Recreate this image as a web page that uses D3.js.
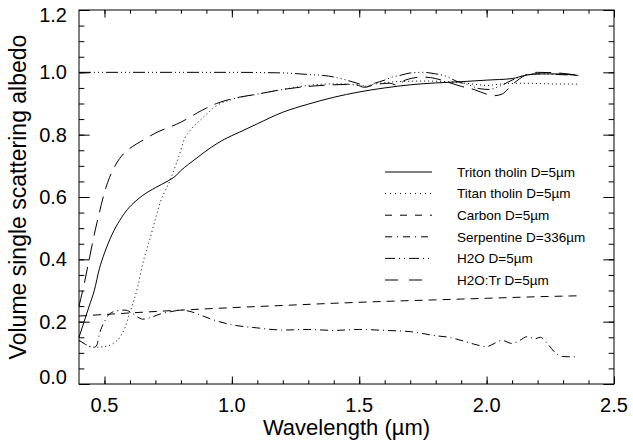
<!DOCTYPE html>
<html>
<head>
<meta charset="utf-8">
<script src="https://cdn.jsdelivr.net/npm/d3@7"></script>
<style>
  html, body { margin: 0; padding: 0; background: #fff; }
  svg { display: block; }
  text { font-family: "Liberation Sans", Arial, Helvetica, sans-serif; fill: #000; }
</style>
</head>
<body>
<svg id="chart" width="633" height="441"></svg>
<script>
// Single scattering albedo spectra, [wavelength (µm), albedo]
const tritonTholin = [[0.40,0.15],[0.42,0.20],[0.44,0.25],[0.46,0.30],[0.48,0.37],[0.50,0.42],[0.53,0.48],[0.56,0.525],[0.59,0.56],[0.62,0.585],[0.65,0.605],[0.70,0.63],[0.75,0.652],[0.78,0.668],[0.80,0.685],[0.83,0.705],[0.87,0.73],[0.92,0.76],[0.97,0.785],[1.03,0.808],[1.10,0.835],[1.20,0.872],[1.30,0.898],[1.40,0.92],[1.50,0.937],[1.60,0.95],[1.70,0.96],[1.80,0.966],[1.90,0.97],[2.00,0.975],[2.10,0.98],[2.15,0.99],[2.20,0.995],[2.28,0.995],[2.36,0.99]];
const titanTholin = [[0.40,0.14],[0.43,0.125],[0.46,0.118],[0.50,0.12],[0.53,0.128],[0.56,0.15],[0.58,0.18],[0.60,0.23],[0.63,0.31],[0.65,0.385],[0.68,0.47],[0.70,0.53],[0.72,0.585],[0.757,0.653],[0.79,0.726],[0.816,0.79],[0.836,0.813],[0.887,0.855],[0.94,0.893],[1.00,0.913],[1.10,0.93],[1.20,0.945],[1.30,0.958],[1.40,0.963],[1.48,0.96],[1.52,0.955],[1.56,0.962],[1.65,0.97],[1.75,0.972],[1.85,0.97],[1.95,0.962],[2.00,0.958],[2.05,0.962],[2.15,0.965],[2.25,0.963],[2.36,0.962]];
const carbon = [[0.40,0.218],[0.60,0.228],[0.80,0.237],[1.00,0.245],[1.20,0.252],[1.40,0.259],[1.60,0.265],[1.80,0.27],[2.00,0.275],[2.20,0.28],[2.36,0.283]];
const serpentine = [[0.40,0.14],[0.42,0.13],[0.44,0.12],[0.46,0.118],[0.47,0.125],[0.48,0.16],[0.50,0.2],[0.52,0.225],[0.55,0.235],[0.58,0.237],[0.60,0.232],[0.63,0.215],[0.65,0.208],[0.68,0.213],[0.72,0.225],[0.76,0.232],[0.80,0.237],[0.84,0.232],[0.88,0.22],[0.93,0.205],[1.00,0.19],[1.10,0.18],[1.20,0.173],[1.30,0.175],[1.40,0.172],[1.50,0.175],[1.60,0.172],[1.70,0.168],[1.80,0.155],[1.85,0.15],[1.90,0.14],[1.95,0.128],[2.00,0.12],[2.03,0.13],[2.06,0.14],[2.10,0.13],[2.13,0.14],[2.16,0.152],[2.19,0.145],[2.21,0.15],[2.24,0.128],[2.27,0.1],[2.30,0.088],[2.36,0.087]];
const h2o = [[0.40,1.0],[0.80,1.0],[1.00,1.0],[1.20,0.998],[1.30,0.993],[1.38,0.988],[1.45,0.975],[1.50,0.963],[1.53,0.955],[1.56,0.965],[1.60,0.975],[1.63,0.985],[1.66,0.99],[1.70,0.998],[1.75,1.0],[1.80,0.995],[1.84,0.988],[1.88,0.972],[1.93,0.96],[1.97,0.948],[2.01,0.945],[2.05,0.955],[2.10,0.975],[2.15,0.99],[2.20,0.995],[2.28,0.993],[2.36,0.99]];
const h2oTr = [[0.40,0.25],[0.42,0.32],[0.44,0.40],[0.46,0.48],[0.48,0.55],[0.50,0.615],[0.52,0.663],[0.54,0.698],[0.56,0.724],[0.58,0.743],[0.61,0.762],[0.64,0.777],[0.70,0.805],[0.80,0.84],[0.88,0.877],[0.94,0.9],[1.00,0.915],[1.10,0.93],[1.20,0.945],[1.30,0.955],[1.40,0.96],[1.48,0.962],[1.52,0.952],[1.56,0.96],[1.62,0.965],[1.65,0.958],[1.68,0.975],[1.75,0.985],[1.80,0.98],[1.85,0.968],[1.90,0.955],[1.95,0.945],[2.00,0.93],[2.03,0.925],[2.06,0.93],[2.10,0.96],[2.15,0.99],[2.20,1.0],[2.28,0.998],[2.36,0.99]];

const seriesNames = ["Triton tholin D=5µm", "Titan tholin D=5µm", "Carbon D=5µm", "Serpentine D=336µm", "H2O D=5µm", "H2O:Tr D=5µm"];
const seriesData = [tritonTholin, titanTholin, carbon, serpentine, h2o, h2oTr];
const seriesDash = [null, "1,3", "8,6", "8,4,1,4", "12,3,1,3,1,3,1,3", "16,8"];
const legendDash = [null, "1,4", "7,8", "7,5,1,5", "10,4,1,4,1,4", "13,11"];

const xMajorTicks = [0.5, 1.0, 1.5, 2.0, 2.5];
const yMajorTicks = [0.0, 0.2, 0.4, 0.6, 0.8, 1.0, 1.2];

const svg = d3.select("#chart");
const plot = { left: 79, right: 614, top: 10, bottom: 384 };

const x = d3.scaleLinear().domain([0.4, 2.5]).range([plot.left, plot.right]);
const y = d3.scaleLinear().domain([0, 1.2]).range([plot.bottom, plot.top]);

const xMinor = d3.range(5, 26).map(d => d / 10);
const yMinor = d3.range(0, 25).map(d => d / 20);
const xLen = 7.5, yLen = 10.7;

// Axes: ticks point inward on all four sides
function drawAxis(axis, pos) {
  const g = svg.append("g").attr("transform", pos);
  g.call(axis);
  g.select(".domain").remove();
  g.selectAll("line").attr("stroke", "#000").attr("stroke-width", 1);
  return g;
}
// bottom
drawAxis(d3.axisTop(x).tickValues(xMinor).tickSize(xLen / 2).tickFormat(""), `translate(0,${plot.bottom})`);
drawAxis(d3.axisTop(x).tickValues(xMajorTicks).tickSize(xLen).tickFormat(""), `translate(0,${plot.bottom})`);
// top
drawAxis(d3.axisBottom(x).tickValues(xMinor).tickSize(xLen / 2).tickFormat(""), `translate(0,${plot.top})`);
drawAxis(d3.axisBottom(x).tickValues(xMajorTicks).tickSize(xLen).tickFormat(""), `translate(0,${plot.top})`);
// left
drawAxis(d3.axisRight(y).tickValues(yMinor).tickSize(yLen / 2).tickFormat(""), `translate(${plot.left},0)`);
drawAxis(d3.axisRight(y).tickValues(yMajorTicks).tickSize(yLen).tickFormat(""), `translate(${plot.left},0)`);
// right
drawAxis(d3.axisLeft(y).tickValues(yMinor).tickSize(yLen / 2).tickFormat(""), `translate(${plot.right},0)`);
drawAxis(d3.axisLeft(y).tickValues(yMajorTicks).tickSize(yLen).tickFormat(""), `translate(${plot.right},0)`);

svg.append("rect")
  .attr("x", plot.left).attr("y", plot.top)
  .attr("width", plot.right - plot.left).attr("height", plot.bottom - plot.top)
  .attr("fill", "none").attr("stroke", "#000").attr("stroke-width", 1);

// Tick labels
svg.append("g").selectAll("text").data(xMajorTicks).join("text")
  .attr("x", d => x(d)).attr("y", plot.bottom + 28)
  .attr("text-anchor", "middle").attr("font-size", 20)
  .text(d => d.toFixed(1));

svg.append("g").selectAll("text").data(yMajorTicks).join("text")
  .attr("x", plot.left - 12)
  .attr("y", d => Math.min(Math.max(y(d), plot.top + 5), plot.bottom - 7))
  .attr("dy", "0.35em")
  .attr("text-anchor", "end").attr("font-size", 20)
  .text(d => d.toFixed(1));

// Axis titles
svg.append("text")
  .attr("x", (plot.left + plot.right) / 2).attr("y", 435)
  .attr("text-anchor", "middle").attr("font-size", 22)
  .text("Wavelength (µm)");

svg.append("text")
  .attr("transform", `translate(26,${(plot.top + plot.bottom) / 2}) rotate(-90)`)
  .attr("text-anchor", "middle").attr("font-size", 23)
  .text("Volume single scattering albedo");

// Spectra
const line = d3.line().x(d => x(d[0])).y(d => y(d[1])).curve(d3.curveMonotoneX);
svg.append("g").selectAll("path").data(seriesData).join("path")
  .attr("d", line)
  .attr("fill", "none").attr("stroke", "#000").attr("stroke-width", 1)
  .attr("stroke-dasharray", (d, i) => seriesDash[i]);

// Legend
const legend = svg.append("g");
const rowY = i => 172 + i * 21.6;
legend.selectAll("line").data(seriesNames).join("line")
  .attr("x1", 385).attr("x2", 432)
  .attr("y1", (d, i) => rowY(i)).attr("y2", (d, i) => rowY(i))
  .attr("stroke", "#000").attr("stroke-width", 1)
  .attr("stroke-dasharray", (d, i) => legendDash[i]);
legend.selectAll("text").data(seriesNames).join("text")
  .attr("x", 457).attr("y", (d, i) => rowY(i)).attr("dy", "0.35em")
  .attr("font-size", 13.5)
  .text(d => d);
</script>
</body>
</html>
